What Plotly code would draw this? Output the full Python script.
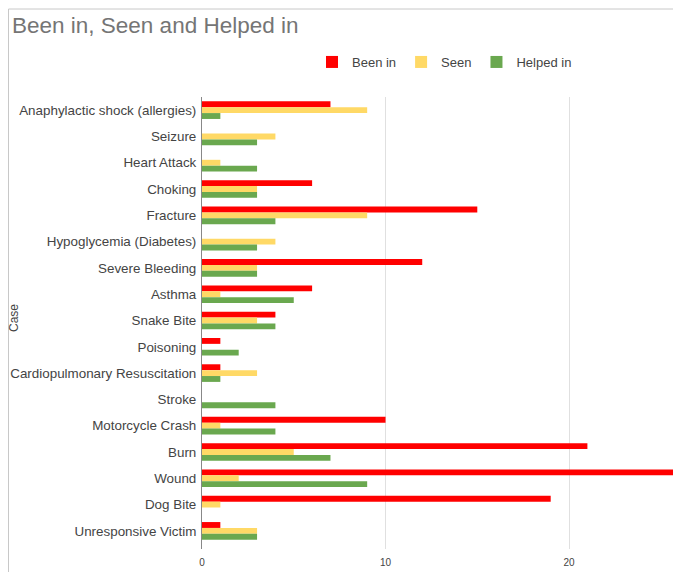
import plotly.graph_objects as go

categories = [
    "Anaphylactic shock (allergies)", "Seizure", "Heart Attack", "Choking",
    "Fracture", "Hypoglycemia (Diabetes)", "Severe Bleeding", "Asthma",
    "Snake Bite", "Poisoning", "Cardiopulmonary Resuscitation", "Stroke",
    "Motorcycle Crash", "Burn", "Wound", "Dog Bite", "Unresponsive Victim",
]
been_in = [7, 0, 0, 6, 15, 0, 12, 6, 4, 1, 1, 0, 10, 21, 26, 19, 1]
seen = [9, 4, 1, 3, 9, 4, 3, 1, 3, 0, 3, 0, 1, 5, 2, 1, 3]
helped_in = [1, 3, 3, 3, 4, 3, 3, 5, 4, 2, 1, 4, 4, 7, 9, 0, 3]
x_ticks = [0, 10, 20]

# page is offset by the 8px body margin
OFF = 8
W, H = 681 - OFF, 572 - OFF
L, R, T, B = 202 - OFF, 0, 97 - OFF, 23
pw, ph = W - L - R, H - T - B
FONT = "Liberation Sans, Arial, sans-serif"

fig = go.Figure()
for name, vals, col in [("Been in", been_in, "#ff0000"),
                        ("Seen", seen, "#ffd966"),
                        ("Helped in", helped_in, "#6aa84f")]:
    fig.add_trace(go.Bar(y=categories, x=vals, name=name, orientation="h",
                         marker=dict(color=col, line=dict(width=0))))

def px_x(p):
    return (p - OFF - L) / pw

def px_y(p):
    return (H - B - (p - OFF)) / ph

fig.update_layout(
    width=W, height=H,
    margin=dict(l=L, r=R, t=T, b=B),
    paper_bgcolor="white", plot_bgcolor="white",
    barmode="group", bargap=0.33, bargroupgap=0,
    font=dict(family=FONT, size=13, color="#444444"),
    title=dict(text="Been in, Seen and Helped in", x=(12 - OFF) / W, xanchor="left",
               y=1 - (25 - OFF) / H, yanchor="middle",
               font=dict(family=FONT, size=22.5, color="#757575")),
    legend=dict(orientation="h", xref="container", yref="container",
                x=(312 - OFF) / W, xanchor="left", y=1 - (62 - OFF) / H, yanchor="middle",
                font=dict(family=FONT, size=13, color="#444444"), traceorder="normal"),
    xaxis=dict(range=[0, 26.1], tickvals=x_ticks, showgrid=True,
               gridcolor="#e0e0e0", zeroline=False, showline=False,
               ticklabelstandoff=6,
               tickfont=dict(size=10, color="#444444"), ticks=""),
    yaxis=dict(range=[16.69, -0.5], showline=True, linecolor="#888888",
               linewidth=1, ticks="", ticklabelstandoff=2,
               tickfont=dict(size=13.4, color="#444444")),
    showlegend=True,
)
fig.add_annotation(text="Case", xref="paper", yref="paper", x=px_x(14), y=px_y(318),
                   xanchor="center", yanchor="middle",
                   textangle=-90, showarrow=False, font=dict(size=12, color="#444444"))
fig.add_shape(type="line", xref="paper", yref="paper", x0=px_x(8.5), x1=px_x(8.5),
              y0=px_y(9), y1=px_y(H + OFF + 5), line=dict(color="#c8c8c8", width=1))
fig.add_shape(type="line", xref="paper", yref="paper", x0=px_x(8.5), x1=px_x(W + OFF + 5),
              y0=px_y(9), y1=px_y(9), line=dict(color="#c8c8c8", width=1))
fig.write_html("out.html")
